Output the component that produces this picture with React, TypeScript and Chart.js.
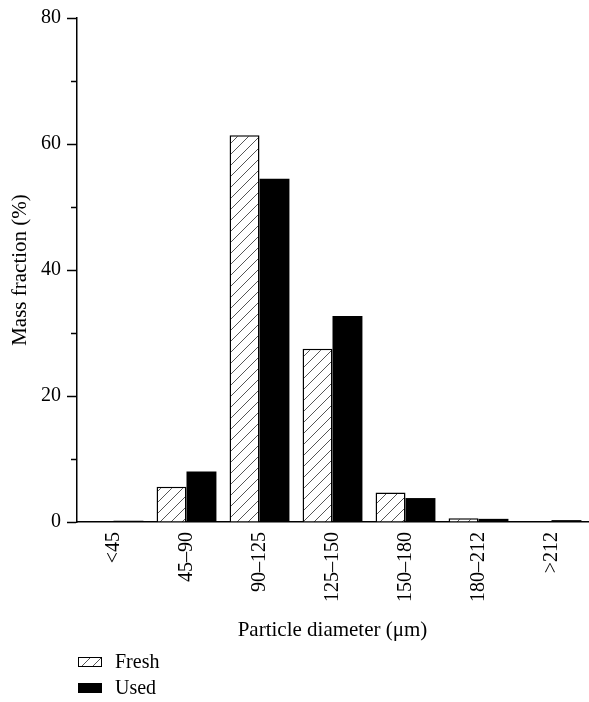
import React, { useEffect, useRef } from "react";
import { Chart, registerables } from "chart.js";

Chart.register(...registerables);

const categories = ["<45", "45–90", "90–125", "125–150", "150–180", "180–212", ">212"];
const freshValues = [0, 5.6, 61.4, 27.5, 4.7, 0.6, 0];
const usedValues = [0.2, 8.0, 54.5, 32.7, 3.8, 0.5, 0.3];
const seriesNames = ["Fresh", "Used"];
const yTicks = [0, 10, 20, 30, 40, 50, 60, 70, 80];

const FONT = "'Liberation Serif', 'DejaVu Serif', serif";

function makeHatch(): CanvasPattern | string {
  const s = 11;
  const c = document.createElement("canvas");
  c.width = s;
  c.height = s;
  const g = c.getContext("2d");
  if (!g) return "#fff";
  g.fillStyle = "#fff";
  g.fillRect(0, 0, s, s);
  g.strokeStyle = "#555";
  g.lineWidth = 1;
  g.beginPath();
  g.moveTo(-1, s + 1);
  g.lineTo(s + 1, -1);
  g.moveTo(-1, 1);
  g.lineTo(1, -1);
  g.moveTo(s - 1, s + 1);
  g.lineTo(s + 1, s - 1);
  g.stroke();
  const p = g.createPattern(c, "repeat");
  return p || "#fff";
}

export default function App() {
  const ref = useRef<HTMLCanvasElement | null>(null);

  useEffect(() => {
    if (!ref.current) return;
    const hatch = makeHatch();

    const minorTicks = {
      id: "minorTicks",
      afterDraw(chart: any) {
        const ctx = chart.ctx;
        const y = chart.scales.y;
        const left = chart.chartArea.left;
        ctx.save();
        ctx.strokeStyle = "#000";
        ctx.lineWidth = 1.5;
        yTicks.forEach((v) => {
          if (v % 20 !== 0) {
            const py = Math.round(y.getPixelForValue(v)) + 0.5;
            ctx.beginPath();
            ctx.moveTo(left - 6, py);
            ctx.lineTo(left, py);
            ctx.stroke();
          }
        });
        ctx.restore();
      },
    };

    const customLegend = {
      id: "customLegend",
      afterDraw(chart: any) {
        const ctx = chart.ctx;
        const fills = [hatch, "#000"];
        const rows = [662, 688];
        ctx.save();
        ctx.font = `20px ${FONT}`;
        ctx.textBaseline = "middle";
        ctx.fillStyle = "#000";
        seriesNames.forEach((name, i) => {
          const yc = rows[i];
          ctx.fillStyle = fills[i] as any;
          ctx.fillRect(78, yc - 5, 24, 10);
          ctx.strokeStyle = "#000";
          ctx.lineWidth = 1;
          ctx.strokeRect(78.5, yc - 4.5, 23, 9);
          ctx.fillStyle = "#000";
          ctx.fillText(name, 115, yc + 1);
        });
        ctx.restore();
      },
    };

    const chart = new Chart(ref.current, {
      type: "bar",
      data: {
        labels: categories,
        datasets: [
          {
            label: seriesNames[0],
            data: freshValues,
            backgroundColor: hatch as any,
            borderColor: "#000",
            borderWidth: 1.5,
            borderSkipped: "bottom",
            categoryPercentage: 0.82,
            barPercentage: 1,
          },
          {
            label: seriesNames[1],
            data: usedValues,
            backgroundColor: "#000",
            borderColor: "#000",
            borderWidth: 0,
            categoryPercentage: 0.82,
            barPercentage: 1,
          },
        ],
      },
      options: {
        animation: false,
        responsive: true,
        maintainAspectRatio: false,
        layout: { padding: { top: 12, right: 1, bottom: 55, left: 0 } },
        plugins: {
          legend: { display: false },
          tooltip: { enabled: false },
        },
        scales: {
          x: {
            grid: { display: false, drawTicks: false },
            border: { display: true, color: "#000", width: 1.5 },
            ticks: {
              color: "#000",
              font: { family: FONT, size: 20 },
              maxRotation: 90,
              minRotation: 90,
              padding: 10,
            },
            title: {
              display: true,
              text: "Particle diameter (μm)",
              color: "#000",
              font: { family: FONT, size: 21 },
              padding: { top: 4, bottom: 4 },
            },
            afterFit: (scale: any) => {
              scale.height = 125;
            },
          },
          y: {
            min: 0,
            max: 80,
            afterBuildTicks: (scale: any) => {
              scale.ticks = yTicks.map((v) => ({ value: v }));
            },
            grid: {
              drawOnChartArea: false,
              drawTicks: true,
              tickLength: 10,
              tickWidth: 1.5,
              tickColor: (ctx: any) =>
                ctx.tick && ctx.tick.value % 20 === 0 ? "#000" : "rgba(0,0,0,0)",
            },
            border: { display: true, color: "#000", width: 1.5 },
            ticks: {
              color: "#000",
              font: { family: FONT, size: 20 },
              padding: 6,
              callback: (v: any) => (Number(v) % 20 === 0 ? String(v) : ""),
            },
            title: {
              display: true,
              text: "Mass fraction (%)",
              color: "#000",
              font: { family: FONT, size: 21 },
              padding: { top: 8, bottom: 4 },
            },
            afterFit: (scale: any) => {
              scale.width = 77;
            },
          },
        },
      },
      plugins: [minorTicks, customLegend],
    });

    return () => chart.destroy();
  }, []);

  return (
    <div style={{ position: "fixed", left: 0, top: 0, width: 589, height: 702, background: "#fff" }}>
      <canvas ref={ref} />
    </div>
  );
}
